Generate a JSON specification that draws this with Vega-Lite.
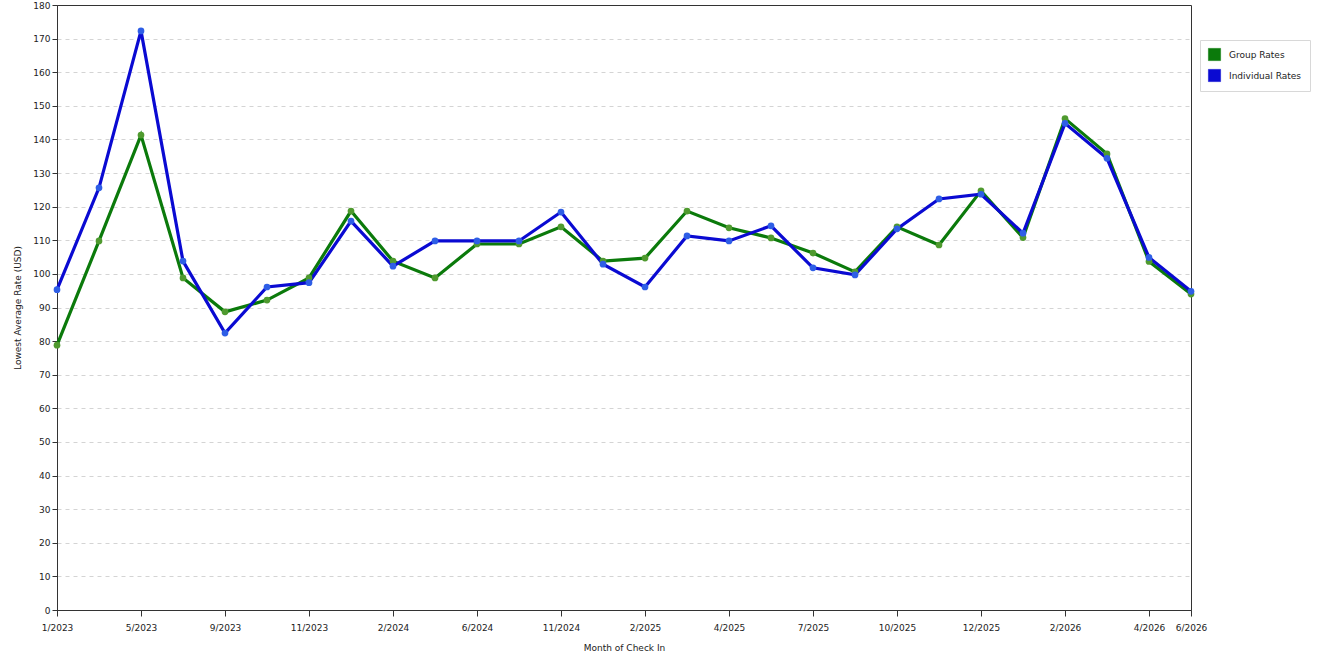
{
  "$schema": "https://vega.github.io/schema/vega-lite/v6.json",
  "width": 1134,
  "height": 605,
  "autosize": "none",
  "padding": {"left": 57, "top": 5, "right": 129, "bottom": 50},
  "background": "white",
  "data": {
    "values": [
      {"month": "1/2023", "series": "Group Rates", "rate": 78.8},
      {"month": "3/2023", "series": "Group Rates", "rate": 109.8},
      {"month": "5/2023", "series": "Group Rates", "rate": 141.3},
      {"month": "7/2023", "series": "Group Rates", "rate": 98.8},
      {"month": "9/2023", "series": "Group Rates", "rate": 88.7},
      {"month": "10/2023", "series": "Group Rates", "rate": 92.2},
      {"month": "11/2023", "series": "Group Rates", "rate": 98.8},
      {"month": "12/2023", "series": "Group Rates", "rate": 118.7},
      {"month": "2/2024", "series": "Group Rates", "rate": 103.8},
      {"month": "4/2024", "series": "Group Rates", "rate": 98.8},
      {"month": "6/2024", "series": "Group Rates", "rate": 108.9},
      {"month": "8/2024", "series": "Group Rates", "rate": 108.9},
      {"month": "11/2024", "series": "Group Rates", "rate": 114.0},
      {"month": "1/2025", "series": "Group Rates", "rate": 103.8},
      {"month": "2/2025", "series": "Group Rates", "rate": 104.7},
      {"month": "3/2025", "series": "Group Rates", "rate": 118.7},
      {"month": "4/2025", "series": "Group Rates", "rate": 113.7},
      {"month": "6/2025", "series": "Group Rates", "rate": 110.7},
      {"month": "7/2025", "series": "Group Rates", "rate": 106.2},
      {"month": "8/2025", "series": "Group Rates", "rate": 100.6},
      {"month": "10/2025", "series": "Group Rates", "rate": 114.0},
      {"month": "11/2025", "series": "Group Rates", "rate": 108.6},
      {"month": "12/2025", "series": "Group Rates", "rate": 124.7},
      {"month": "1/2026", "series": "Group Rates", "rate": 110.8},
      {"month": "2/2026", "series": "Group Rates", "rate": 146.2},
      {"month": "3/2026", "series": "Group Rates", "rate": 135.7},
      {"month": "4/2026", "series": "Group Rates", "rate": 103.7},
      {"month": "6/2026", "series": "Group Rates", "rate": 94.0},
      {"month": "1/2023", "series": "Individual Rates", "rate": 95.3},
      {"month": "3/2023", "series": "Individual Rates", "rate": 125.6},
      {"month": "5/2023", "series": "Individual Rates", "rate": 172.3},
      {"month": "7/2023", "series": "Individual Rates", "rate": 103.8},
      {"month": "9/2023", "series": "Individual Rates", "rate": 82.4},
      {"month": "10/2023", "series": "Individual Rates", "rate": 96.1},
      {"month": "11/2023", "series": "Individual Rates", "rate": 97.4},
      {"month": "12/2023", "series": "Individual Rates", "rate": 115.7},
      {"month": "2/2024", "series": "Individual Rates", "rate": 102.3},
      {"month": "4/2024", "series": "Individual Rates", "rate": 109.8},
      {"month": "6/2024", "series": "Individual Rates", "rate": 109.8},
      {"month": "8/2024", "series": "Individual Rates", "rate": 109.8},
      {"month": "11/2024", "series": "Individual Rates", "rate": 118.4},
      {"month": "1/2025", "series": "Individual Rates", "rate": 102.9},
      {"month": "2/2025", "series": "Individual Rates", "rate": 96.1},
      {"month": "3/2025", "series": "Individual Rates", "rate": 111.3},
      {"month": "4/2025", "series": "Individual Rates", "rate": 109.8},
      {"month": "6/2025", "series": "Individual Rates", "rate": 114.3},
      {"month": "7/2025", "series": "Individual Rates", "rate": 101.8},
      {"month": "8/2025", "series": "Individual Rates", "rate": 99.7},
      {"month": "10/2025", "series": "Individual Rates", "rate": 113.4},
      {"month": "11/2025", "series": "Individual Rates", "rate": 122.3},
      {"month": "12/2025", "series": "Individual Rates", "rate": 123.7},
      {"month": "1/2026", "series": "Individual Rates", "rate": 112.1},
      {"month": "2/2026", "series": "Individual Rates", "rate": 144.8},
      {"month": "3/2026", "series": "Individual Rates", "rate": 134.4},
      {"month": "4/2026", "series": "Individual Rates", "rate": 104.9},
      {"month": "6/2026", "series": "Individual Rates", "rate": 94.8}
    ]
  },
  "encoding": {
    "x": {
      "field": "month",
      "type": "ordinal",
      "sort": null,
      "scale": {"type": "point", "padding": 0},
      "axis": {
        "title": "Month of Check In",
        "values": ["1/2023", "5/2023", "9/2023", "11/2023", "2/2024", "6/2024", "11/2024", "2/2025", "4/2025", "7/2025", "10/2025", "12/2025", "2/2026", "4/2026", "6/2026"],
        "labelAngle": 0,
        "grid": false,
        "tickSize": 6,
        "labelPadding": 7,
        "titlePadding": 11
      }
    },
    "y": {
      "field": "rate",
      "type": "quantitative",
      "scale": {"domain": [0, 180], "nice": false},
      "axis": {
        "title": "Lowest Average Rate (USD)",
        "values": [0, 10, 20, 30, 40, 50, 60, 70, 80, 90, 100, 110, 120, 130, 140, 150, 160, 170, 180],
        "grid": true,
        "gridDash": [4, 4],
        "gridColor": "#d4d4d4",
        "gridOpacity": {"condition": {"test": "datum.value == 0 || datum.value == 180", "value": 0}, "value": 1},
        "tickSize": 5,
        "titlePadding": 10
      }
    }
  },
  "layer": [
    {
      "mark": {"type": "line", "strokeWidth": 3.2},
      "encoding": {
        "color": {
          "field": "series",
          "type": "nominal",
          "scale": {"domain": ["Group Rates", "Individual Rates"], "range": ["#0b7a0b", "#0a0ad2"]},
          "legend": {
            "title": null,
            "orient": "none",
            "legendX": 1143,
            "legendY": 35,
            "symbolType": "square",
            "symbolSize": 150,
            "symbolOpacity": 1,
            "fillColor": "white",
            "strokeColor": "#d8d8d8",
            "padding": 8,
            "rowPadding": 6,
            "labelFontSize": 9,
            "labelColor": "#222",
            "labelOffset": 8,
            "encode": {
              "symbols": {
                "update": {
                  "fill": {"scale": "color", "field": "value"},
                  "stroke": {"value": "#333"},
                  "strokeWidth": {"value": 0.5}
                }
              }
            }
          }
        }
      }
    },
    {
      "mark": {"type": "point", "filled": true, "size": 45, "opacity": 1},
      "encoding": {
        "detail": {"field": "series", "type": "nominal"},
        "fill": {
          "condition": {"test": "datum.series == 'Group Rates'", "value": "#4f9a2f"},
          "value": "#2e5ee6"
        }
      }
    }
  ],
  "config": {
    "font": "DejaVu Sans",
    "view": {"stroke": "#333", "strokeWidth": 1},
    "axis": {
      "labelFont": "DejaVu Sans",
      "titleFont": "DejaVu Sans",
      "labelFontSize": 9,
      "titleFontSize": 9,
      "titleFontWeight": "normal",
      "labelColor": "#222",
      "titleColor": "#222",
      "domainColor": "#333",
      "tickColor": "#333"
    }
  }
}
